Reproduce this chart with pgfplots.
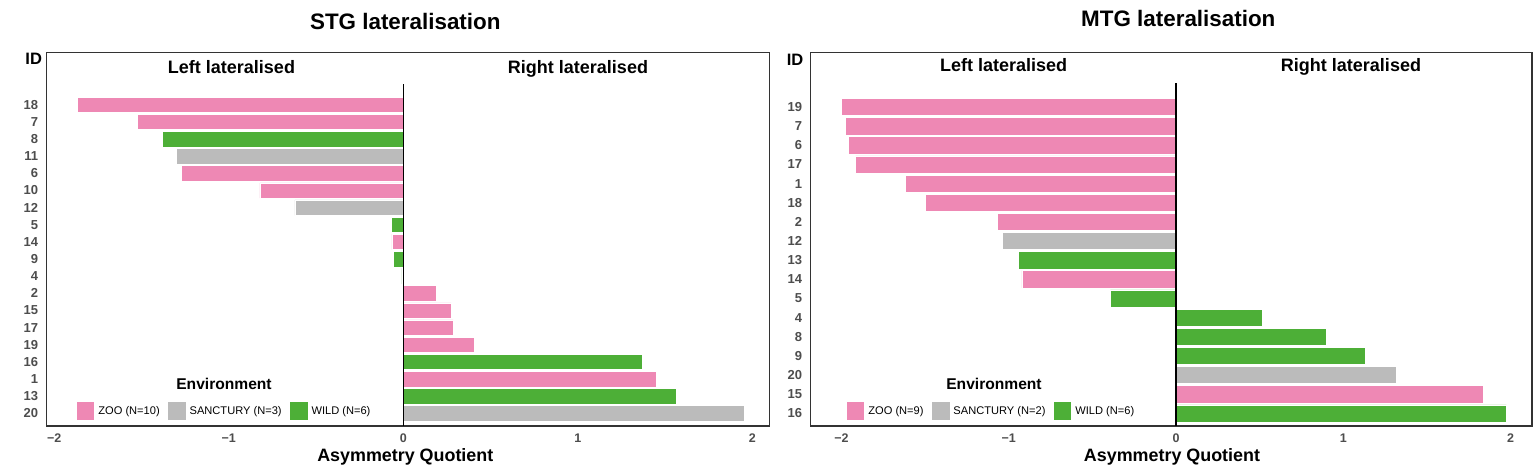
\documentclass[border=0pt]{standalone}
\usepackage{pgfplots}
\pgfplotsset{compat=1.18}
\usepackage{fontspec}
\setmainfont{Liberation Sans}
\definecolor{zoo}{HTML}{EE88B4}
\definecolor{sanc}{HTML}{BBBBBB}
\definecolor{wild}{HTML}{4DAF37}
\definecolor{tickgray}{HTML}{4D4D4D}
\definecolor{framegray}{HTML}{333333}
\newcommand{\fs}[1]{\fontsize{#1}{#1}\selectfont}
\pgfplotsset{
  sqlegend/.style={legend image code/.code={\fill[##1] (0pt,-9.5pt) rectangle (18.6pt,9.5pt);}},
  panel/.style={
    scale only axis,
    xbar, bar shift=0pt, bar width=0.9,
    y dir=reverse,
    axis line style={framegray, line width=1.1pt},
    major tick length=0pt,
    xtick={-2,-1,0,1,2},
    xticklabels={−2,−1,0,1,2},
    xticklabel style={font=\fs{12.5}\bfseries, text=tickgray, inner sep=0pt, yshift=-7.5pt},
    yticklabel style={font=\fs{13}\bfseries, text=tickgray, inner sep=0pt, xshift=-8.4pt},
    legend style={draw=none, fill=none, inner sep=0pt, anchor=west, legend columns=3,
      font=\fs{11.1}, nodes={inner sep=0pt},
      /tikz/every odd column/.append style={column sep=3.4pt},
      /tikz/every even column/.append style={column sep=7.4pt}},
  },
  bars/.style={draw=white, line width=0.5pt, sqlegend},
}
\begin{document}
\begin{tikzpicture}[x=1pt,y=1pt]
\useasboundingbox (0pt,0pt) rectangle (1535pt,475pt);
% ---------------- STG ----------------
\begin{axis}[panel,
  at={(46.7pt,49pt)}, anchor=south west, width=722.6pt, height=373.7pt,
  xmin=-2.043, xmax=2.097, ymin=-2.06, ymax=19.74,
  ytick={1,...,19},
  yticklabels={18,7,8,11,6,10,12,5,14,9,4,2,15,17,19,16,1,13,20},
  legend style={at={(0.0401,0.0396)}},
]
\addplot[fill=zoo, bars] coordinates {(-1.866,1) (-1.524,2) (-1.270,5) (-0.821,6) (-0.066,9) (0.188,12) (0.274,13) (0.285,14) (0.405,15) (1.449,17)};
\addplot[fill=sanc, bars] coordinates {(-1.299,4) (-0.621,7) (1.954,19)};
\addplot[fill=wild, bars] coordinates {(-1.381,3) (-0.070,8) (-0.055,10) (-0.008,11) (1.369,16) (1.563,18)};
\legend{ZOO (N=10), SANCTURY (N=3), WILD (N=6)}
\addplot[sharp plot, black, line width=1.4pt, forget plot] coordinates {(0,-0.21) (0,19.74)};
\end{axis}
% ---------------- MTG ----------------
\begin{axis}[panel,
  at={(810.7pt,49pt)}, anchor=south west, width=721.3pt, height=373.7pt,
  xmin=-2.184, xmax=2.128, ymin=-1.86, ymax=17.66,
  ytick={1,...,17},
  yticklabels={19,7,6,17,1,18,2,12,13,14,5,4,8,9,20,15,16},
  legend style={at={(0.0485,0.0396)}},
]
\addplot[fill=zoo, bars] coordinates {(-2.000,1) (-1.978,2) (-1.960,3) (-1.916,4) (-1.618,5) (-1.499,6) (-1.069,7) (-0.921,10) (1.834,16)};
\addplot[fill=sanc, bars] coordinates {(-1.039,8) (1.317,15)};
\addplot[fill=wild, bars] coordinates {(-0.941,9) (-0.392,11) (0.513,12) (0.896,13) (1.134,14) (1.974,17)};
\legend{ZOO (N=9), SANCTURY (N=2), WILD (N=6)}
\addplot[sharp plot, black, line width=1.4pt, forget plot] coordinates {(0,-0.24) (0,17.66)};
\end{axis}
% ---------------- texts ----------------
\node[anchor=base, font=\fs{22.4}\bfseries] at (405.3pt,445.7pt) {STG lateralisation};
\node[anchor=base, font=\fs{22.4}\bfseries] at (1178.3pt,448.3pt) {MTG lateralisation};
\node[anchor=base, font=\fs{16.5}\bfseries] at (33.7pt,410pt) {ID};
\node[anchor=base, font=\fs{16.5}\bfseries] at (795pt,409.3pt) {ID};
\node[anchor=base, font=\fs{18}\bfseries] at (231.5pt,401.7pt) {Left lateralised};
\node[anchor=base, font=\fs{18}\bfseries] at (578pt,401.7pt) {Right lateralised};
\node[anchor=base, font=\fs{18}\bfseries] at (1003.7pt,403.3pt) {Left lateralised};
\node[anchor=base, font=\fs{18}\bfseries] at (1351pt,403.7pt) {Right lateralised};
\node[anchor=base, font=\fs{15.6}\bfseries] at (224pt,85.7pt) {Environment};
\node[anchor=base, font=\fs{15.6}\bfseries] at (994pt,85.7pt) {Environment};
\node[anchor=base, font=\fs{17.9}\bfseries] at (405.3pt,13.3pt) {Asymmetry Quotient};
\node[anchor=base, font=\fs{17.9}\bfseries] at (1172pt,13.3pt) {Asymmetry Quotient};
\end{tikzpicture}
\end{document}
